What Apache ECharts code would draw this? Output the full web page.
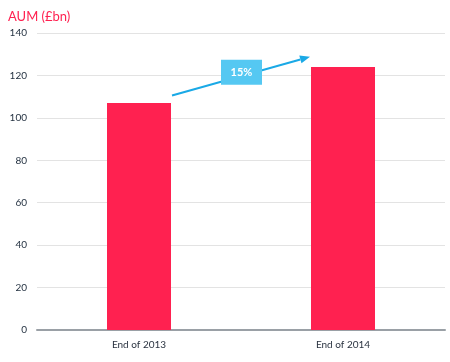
<!DOCTYPE html>
<html><head><meta charset="utf-8">
<script src="https://cdn.jsdelivr.net/npm/echarts@6/dist/echarts.min.js"></script>
<style>html,body{margin:0;padding:0;background:#fff}#c{width:450px;height:362px}</style>
</head><body><div id="c"></div>
<script>
const categories = ['End of 2013', 'End of 2014'];
const aumValues = [107, 124];
const yTicks = [0, 20, 40, 60, 80, 100, 120, 140];
const growthLabel = '15%';
const arrowStartValue = 110.5;
const arrowEndValue = 128.8;

const chart = echarts.init(document.getElementById('c'), null, {renderer: 'canvas'});
const BAR_W = 64;
chart.setOption({
  animation: false,
  textStyle: {fontFamily: 'Lato'},
  title: {text: 'AUM (£bn)', left: 3, top: 5, textStyle: {color: '#ff2150', fontSize: 13, fontWeight: 'normal', fontFamily: 'Lato'}},
  grid: {left: 37, right: 5, top: 33, bottom: 32},
  xAxis: {
    type: 'category', data: categories,
    axisLine: {lineStyle: {color: '#9aa0a6', width: 2}},
    axisTick: {show: false},
    axisLabel: {color: '#2a3340', fontSize: 10, margin: 10}
  },
  yAxis: {
    type: 'value', min: yTicks[0], max: yTicks[yTicks.length - 1], interval: 20,
    axisLine: {show: false}, axisTick: {show: false},
    axisLabel: {color: '#1f2d3d', fontSize: 10, margin: 10},
    splitLine: {lineStyle: {color: '#e3e3e3', width: 1}}
  },
  series: [{type: 'bar', data: aumValues, barWidth: BAR_W, itemStyle: {color: '#ff2150'}}]
});

function drawAnnotation() {
  const p1 = chart.convertToPixel({gridIndex: 0}, [categories[0], arrowStartValue]);
  const p2 = chart.convertToPixel({gridIndex: 0}, [categories[1], arrowEndValue]);
  const x1 = p1[0] + BAR_W / 2 + 1, y1 = p1[1];
  const x2 = p2[0] - BAR_W / 2 - 1, y2 = p2[1];
  const ang = Math.atan2(y2 - y1, x2 - x1);
  const hl = 10, hw = 4;
  const bx = x2 - hl * Math.cos(ang), by = y2 - hl * Math.sin(ang);
  const head = [[x2, y2], [bx - hw * Math.sin(ang), by + hw * Math.cos(ang)], [bx + hw * Math.sin(ang), by - hw * Math.cos(ang)]];
  const mx = x1 + (x2 - x1) * 0.5, my = y1 + (y2 - y1) * 0.5 - 4;
  chart.setOption({graphic: [
    {type: 'line', shape: {x1: x1, y1: y1, x2: bx, y2: by}, style: {stroke: '#1aa9e6', lineWidth: 2}},
    {type: 'polygon', shape: {points: head}, style: {fill: '#1aa9e6'}},
    {type: 'rect', shape: {x: mx - 20, y: my - 12.5, width: 41, height: 25}, style: {fill: '#55c8f2'}},
    {type: 'text', x: mx + 0.5, y: my, style: {text: growthLabel, fill: '#fff', font: 'bold 11px Lato', align: 'center', verticalAlign: 'middle'}}
  ]});
}
drawAnnotation();
</script></body></html>
